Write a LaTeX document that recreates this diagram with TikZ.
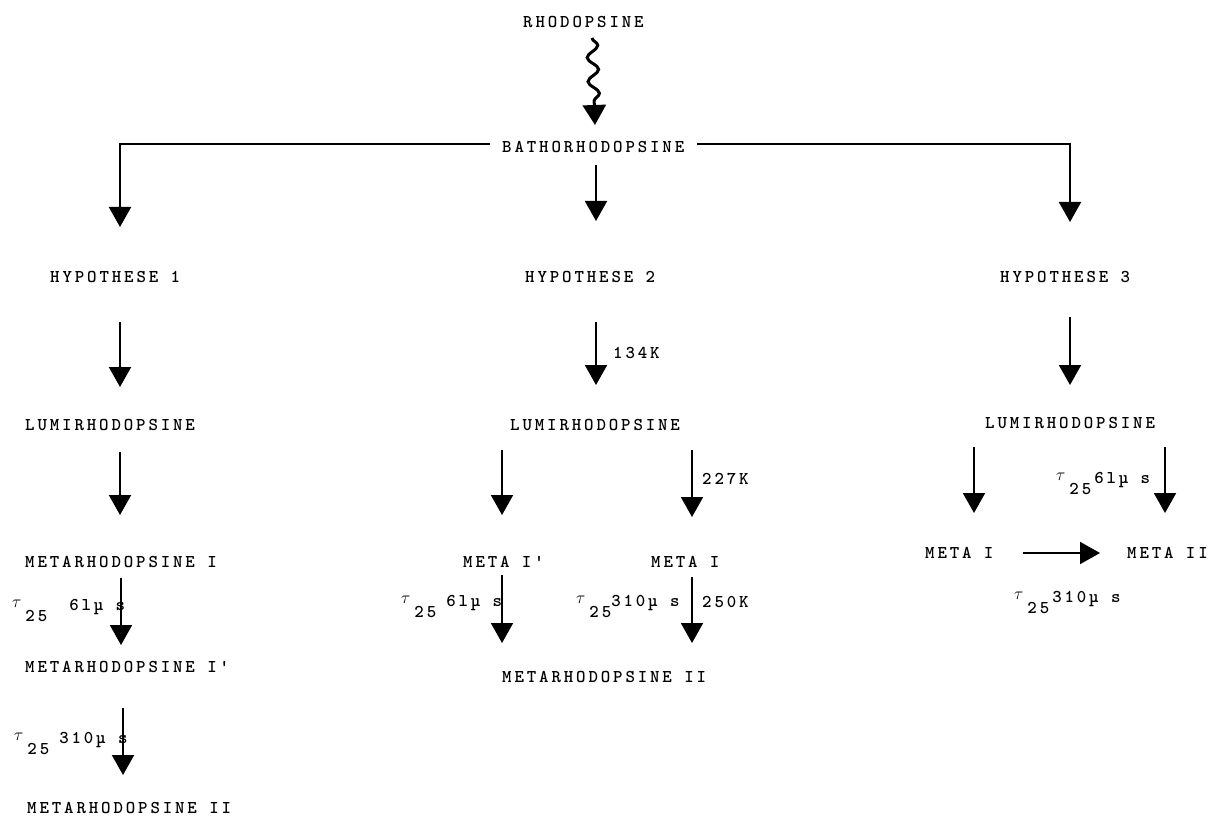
\documentclass[tikz,border=0pt]{standalone}
\usepackage{fontspec}
\usetikzlibrary{arrows.meta,decorations.pathmorphing}
\newfontfamily\tw[LetterSpace=16]{lmmonolt10-bold.otf}
\newcommand{\taulab}[2]{\raisebox{3pt}{\fontsize{16}{16}\selectfont$\tau$}\hspace{4pt}\raisebox{-11pt}{25}\hspace{#1}#2}
\begin{document}
\begin{tikzpicture}[x=1pt,y=-1pt,
  lbl/.style={font=\tw\fontsize{18}{20}\selectfont, inner sep=0pt, anchor=west},
  tlab/.style={font=\tw\fontsize{18}{20}\selectfont, inner sep=0pt, anchor=base west},
  arr/.style={line width=2pt, -{Triangle[length=20pt,width=22pt]}},
  branch/.style={line width=2pt, -{Triangle[length=20pt,width=22pt]}}]
\useasboundingbox (0,0) rectangle (1212,818);
% main texts
\node[lbl] (rho) at (523,22) {RHODOPSINE};
\node[lbl] (batho) at (502,147) {BATHORHODOPSINE};
\node[lbl] (h1) at (50,277) {HYPOTHESE 1};
\node[lbl] (h2) at (525,277) {HYPOTHESE 2};
\node[lbl] (h3) at (1000,277) {HYPOTHESE 3};
\node[lbl] (l1) at (25,425) {LUMIRHODOPSINE};
\node[lbl] (l2) at (510,425) {LUMIRHODOPSINE};
\node[lbl] (l3) at (985,423) {LUMIRHODOPSINE};
\node[lbl] (m1) at (25,562) {METARHODOPSINE I};
\node[lbl] (m1p) at (25,667) {METARHODOPSINE I'};
\node[lbl] (m2a) at (27,808) {METARHODOPSINE II};
\node[lbl] (mi2p) at (463,562) {META I'};
\node[lbl] (mi2) at (651,562) {META I};
\node[lbl] (m2b) at (502,677) {METARHODOPSINE II};
\node[lbl] (mi3) at (925,553) {META I};
\node[lbl] (mii3) at (1127,553) {META II};
% connector end points
\coordinate (w0) at (592,38);   \coordinate (w1) at (595,125);
\coordinate (bl) at (490,144);  \coordinate (blc) at (120,144); \coordinate (bl1) at (120,227);
\coordinate (br) at (697,144);  \coordinate (brc) at (1070,144); \coordinate (br1) at (1070,222);
\coordinate (bc0) at (596,165); \coordinate (bc1) at (596,221);
\coordinate (a1s) at (120,322); \coordinate (a1e) at (120,387);
\coordinate (a2s) at (120,452); \coordinate (a2e) at (120,515);
\coordinate (a3s) at (121,578); \coordinate (a3e) at (121,645);
\coordinate (a4s) at (123,708); \coordinate (a4e) at (123,775);
\coordinate (b1s) at (596,322); \coordinate (b1e) at (596,385);
\coordinate (b2s) at (502,450); \coordinate (b2e) at (502,515);
\coordinate (b3s) at (692,450); \coordinate (b3e) at (692,517);
\coordinate (b4s) at (502,575); \coordinate (b4e) at (502,643);
\coordinate (b5s) at (692,577); \coordinate (b5e) at (692,643);
\coordinate (c1s) at (1070,317); \coordinate (c1e) at (1070,385);
\coordinate (c2s) at (974,447); \coordinate (c2e) at (974,513);
\coordinate (c3s) at (1165,447); \coordinate (c3e) at (1165,513);
\coordinate (c4s) at (1023,553); \coordinate (c4e) at (1100,553);
% wavy arrow
\draw[line width=3pt, -{Triangle[length=20pt,width=23pt]},
  decoration={snake, amplitude=5.5pt, segment length=24pt, post length=18pt}, decorate] (w0) -- (w1);
% branches
\draw[branch] (bl) -- (blc) -- (bl1);
\draw[branch] (br) -- (brc) -- (br1);
\draw[arr] (bc0) -- (bc1);
% column 1
\draw[arr] (a1s) -- (a1e);
\draw[arr] (a2s) -- (a2e);
\draw[arr] (a3s) -- (a3e);
\draw[arr] (a4s) -- (a4e);
% column 2
\draw[arr] (b1s) -- (b1e);
\draw[arr] (b2s) -- (b2e);
\draw[arr] (b3s) -- (b3e);
\draw[arr] (b4s) -- (b4e);
\draw[arr] (b5s) -- (b5e);
% column 3
\draw[arr] (c1s) -- (c1e);
\draw[arr] (c2s) -- (c2e);
\draw[arr] (c3s) -- (c3e);
\draw[arr] (c4s) -- (c4e);
% labels
\node[lbl] (k134) at (613,353) {134K};
\node[lbl] (k227) at (702,479) {227K};
\node[lbl] (k250) at (702,602) {250K};
\node[tlab] (t1) at (12,610) {\taulab{22pt}{6lµ s}};
\node[tlab] (t2) at (14,743) {\taulab{10pt}{310µ s}};
\node[tlab] (t3) at (401,606) {\taulab{10pt}{6lµ s}};
\node[tlab] (t4) at (576,606) {\taulab{0pt}{310µ s}};
\node[tlab] (t5) at (1056,483) {\taulab{3pt}{6lµ s}};
\node[tlab] (t6) at (1014,602) {\taulab{3pt}{310µ s}};
\end{tikzpicture}
\end{document}
